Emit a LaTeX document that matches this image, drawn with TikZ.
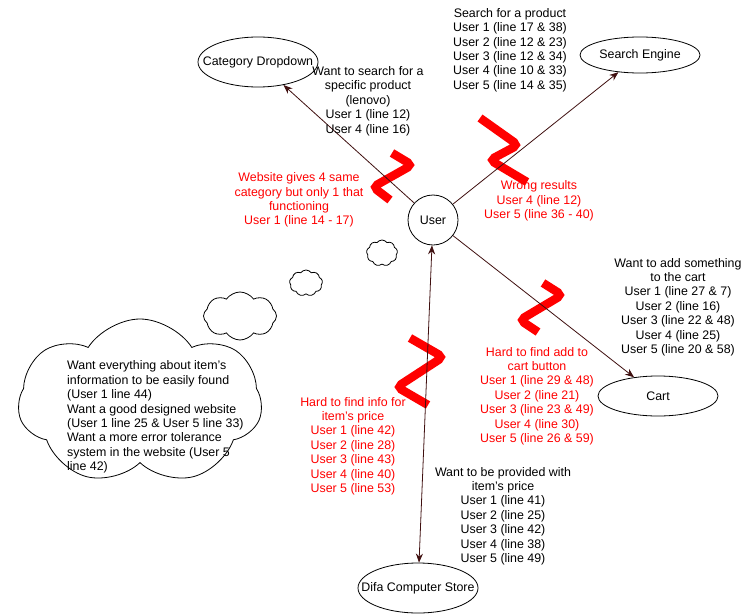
\documentclass[tikz,border=0pt]{standalone}
\usepackage{fontspec}
\setmainfont{Liberation Sans}
\usetikzlibrary{shapes.geometric,shapes.symbols,arrows.meta}
\definecolor{lnc}{RGB}{64,16,16}
\definecolor{zred}{RGB}{255,0,0}
\newcommand{\fsz}{\fontsize{12.4}{14.4}\selectfont}
\newcommand{\zb}[1]{\makebox[0pt]{#1}}
\begin{document}
\begin{tikzpicture}[x=1pt,y=-1pt,
  txt/.style={align=center,font=\fsz,inner sep=0pt},
  rtxt/.style={txt,text=zred},
  ell/.style={ellipse,draw,line width=0.8pt,minimum width=120pt,inner sep=0pt,font=\fsz},
  arr/.style={draw=lnc,line width=0.8pt,-{Stealth[length=9pt,width=7pt]}},
  zig/.style={draw=zred,line width=8.5pt,rounded corners=5pt,line cap=butt},
  cl/.style={cloud,draw,line width=0.8pt,cloud puffs=9,cloud puff arc=110,inner sep=0pt}
]
\useasboundingbox (0,0) rectangle (751,615);
\fill[white] (0,0) rectangle (751,615);

% nodes
\node[circle,draw,line width=0.8pt,minimum size=50pt,inner sep=0pt,font=\fsz] (user) at (433,220) {\zb{User}};
\node[ell,minimum height=50pt] (cat) at (258,62) {\zb{Category Dropdown}};
\node[ell,minimum height=36pt] (search) at (640,55) {\zb{Search Engine}};
\node[ell,minimum height=40pt] (cart) at (658,396) {\zb{Cart}};
\node[ell,minimum height=50pt] (difa) at (418,588) {\zb{Difa Computer Store}};

% zigzags
\draw[zig] (392,153) -- (412,165) -- (373,187) -- (390,200);
\draw[zig] (480,118) -- (518,145) -- (490,160) -- (527,182);
\draw[zig] (543,283) -- (562,295) -- (520,320) -- (538,332);
\draw[zig] (410,338) -- (443,357) -- (397,387) -- (428,405);

% connectors
\draw[arr] (user) -- (cat);
\draw[arr] (user) -- (search);
\draw[arr] (user) -- (cart);
\draw[arr,{Stealth[length=9pt,width=7pt]}-{Stealth[length=9pt,width=7pt]}] (user) -- (difa);

% clouds
\node[cl,minimum width=31pt,minimum height=26pt,aspect=1.2] (c1) at (382,253) {};
\node[cl,minimum width=33pt,minimum height=26pt,aspect=1.27] (c2) at (306,283) {};
\node[cl,minimum width=73pt,minimum height=48pt,aspect=1.5,cloud puffs=8] (c3) at (240,316) {};
\node[cl,minimum width=244pt,minimum height=166pt,aspect=1.5,cloud puffs=7,cloud puff arc=115] (c4) at (140,402) {};

% texts
\node[txt] (t1) at (368,101) {Want to search for a\\specific product\\(lenovo)\\User 1 (line 12)\\User 4 (line 16)};
\node[txt] (t2) at (510,50) {Search for a product\\User 1 (line 17 \& 38)\\User 2 (line 12 \& 23)\\User 3 (line 12 \& 34)\\User 4 (line 10 \& 33)\\User 5 (line 14 \& 35)};
\node[rtxt] (t3) at (299,200) {Website gives 4 same\\category but only 1 that\\functioning\\User 1 (line 14 - 17)};
\node[rtxt] (t4) at (539,201) {Wrong results\\User 4 (line 12)\\User 5 (line 36 - 40)};
\node[txt] (t5) at (678,307) {Want to add something\\to the cart\\User 1 (line 27 \& 7)\\User 2 (line 16)\\User 3 (line 22 \& 48)\\User 4 (line 25)\\User 5 (line 20 \& 58)};
\node[rtxt] (t6) at (537,396) {Hard to find add to\\cart button\\User 1 (line 29 \& 48)\\User 2 (line 21)\\User 3 (line 23 \& 49)\\User 4 (line 30)\\User 5 (line 26 \& 59)};
\node[rtxt] (t7) at (353,446) {Hard to find info for\\item's price\\User 1 (line 42)\\User 2 (line 28)\\User 3 (line 43)\\User 4 (line 40)\\User 5 (line 53)};
\node[txt] (t8) at (503,516) {Want to be provided with\\item's price\\User 1 (line 41)\\User 2 (line 25)\\User 3 (line 42)\\User 4 (line 38)\\User 5 (line 49)};
\node[txt,align=left,anchor=west] (t9) at (67,417) {Want everything about item's\\information to be easily found\\(User 1 line 44)\\Want a good designed website\\(User 1 line 25 \& User 5 line 33)\\Want a more error tolerance\\system in the website (User 5\\line 42)};
\end{tikzpicture}
\end{document}
